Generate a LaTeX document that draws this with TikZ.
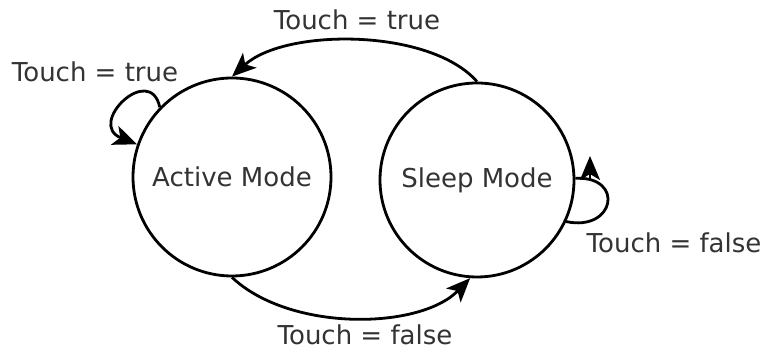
\documentclass[tikz,border=0pt]{standalone}
\usepackage{fontspec}
\setmainfont{DejaVu Sans}
\usetikzlibrary{arrows.meta}
\definecolor{txt}{HTML}{333333}
\tikzset{
  state/.style={circle, draw=black, line width=2.8pt, inner sep=0pt, text=txt,
    font=\fontsize{26}{30}\selectfont},
  lbl/.style={text=txt, font=\fontsize{26}{30}\selectfont, inner sep=0pt},
  conn/.style={line width=2.8pt, black},
  arr/.style={conn, -{Stealth[length=24pt,width=20pt,inset=6pt]}},
}
\begin{document}
\begin{tikzpicture}[x=1pt,y=1pt]
\useasboundingbox[fill=white] (0,0) rectangle (763,352);
\node[state, minimum size=198pt] (active) at (232,175) {Active Mode};
\node[state, minimum size=194pt] (sleep) at (477,172) {Sleep Mode};
% top arc: sleep -> active
\draw[arr] (sleep.north) .. controls (430,324) and (285,324) .. (active.north);
\node[lbl] (ltop) at (357,332) {Touch = true};
% bottom arc: active -> sleep
\draw[arr] (active.south) .. controls (290,20) and (420,22) .. (sleep.-94);
\node[lbl] (lbot) at (365,17) {Touch = false};
% left self loop
\draw[arr] (active.136) .. controls (150,290) and (86,228) .. (active.161);
\node[lbl] (lleft) at (95,280) {Touch = true};
% right self loop
\draw[conn] (sleep.-25) .. controls (615,120) and (625,176) .. (sleep.1);
\coordinate (rtail) at (590,172);
\coordinate (rtip) at (590,196);
\draw[arr] (rtail) -- (rtip);
\node[lbl] (lright) at (674,109) {Touch = false};
\end{tikzpicture}
\end{document}
